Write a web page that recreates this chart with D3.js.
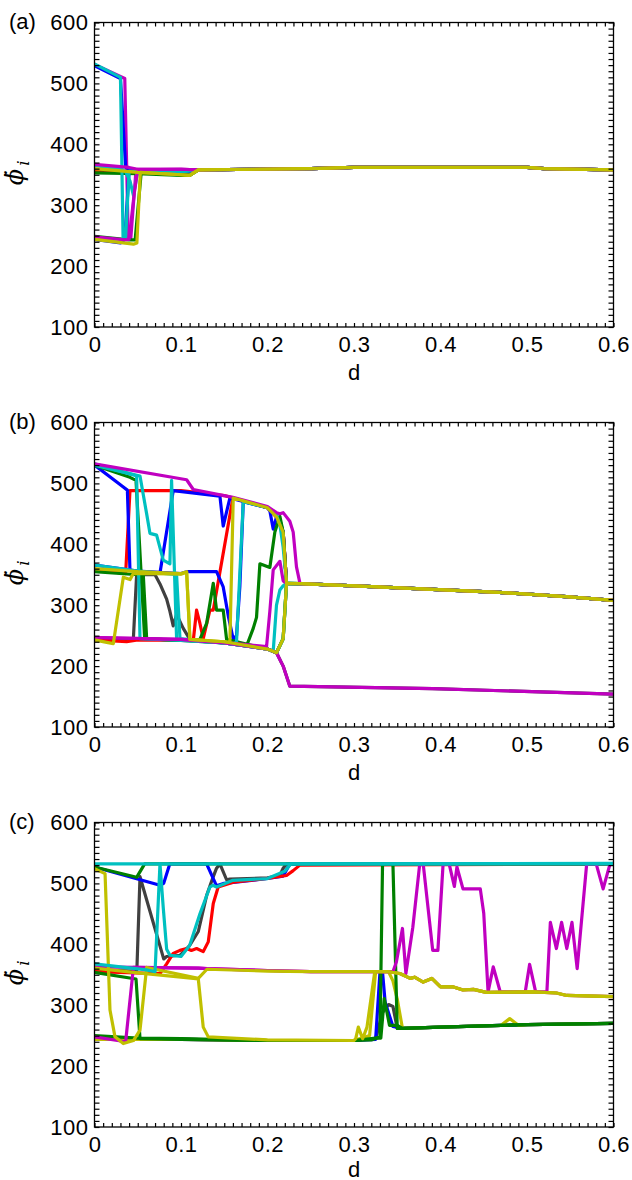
<!DOCTYPE html>
<html>
<head>
<meta charset="utf-8">
<script src="https://cdn.jsdelivr.net/npm/d3@7"></script>
<style>
body { margin: 0; background: #fff; }
svg text { font-family: "Liberation Sans", Arial, sans-serif; fill: #000; }
</style>
</head>
<body>
<div id="chart"></div>
<script>
/* tick labels */
var xTickValues = [0, 0.1, 0.2, 0.3, 0.4, 0.5, 0.6];
var xTickLabels = ['0', '0.1', '0.2', '0.3', '0.4', '0.5', '0.6'];
var yTickValues = [100, 200, 300, 400, 500, 600];
var yTickLabels = ['100', '200', '300', '400', '500', '600'];
var panelLabels = ['(a)', '(b)', '(c)'];

/* shared tails of the curves, [d, phi] */
var tailA = [[0.12, 358], [0.25, 360], [0.3, 362], [0.5, 362], [0.52, 360], [0.6, 358]];
var upperTailB = [[0.2376, 335.5], [0.314, 331], [0.391, 326], [0.468, 321], [0.545, 314], [0.6, 308]];
var lowerTailB = [[0.2258, 167], [0.391, 163], [0.506, 158], [0.6, 154]];
var midTailC = [[0.34, 355], [0.353, 352], [0.365, 344], [0.37, 346], [0.38, 338], [0.39, 344], [0.4, 330],
	[0.415, 330], [0.426, 325], [0.438, 326], [0.453, 321], [0.507, 322], [0.534, 320], [0.546, 316], [0.6, 314]];
var lowTailC = [[0.356, 262], [0.4, 264], [0.45, 266], [0.5, 268], [0.6, 270]];

/* panel (a) : [colour key, points] in drawing order */
var panelA = [
	['gray', [[0, 358], [0.05, 354], [0.1, 351], [0.11, 350]].concat(tailA)],
	['red', [[0, 355], [0.04, 356], [0.05, 357], [0.1, 357]].concat(tailA)],
	['magenta', [[0, 531], [0.035, 508], [0.039, 246], [0.042, 246], [0.048, 358], [0.1, 359]].concat(tailA)],
	['blue', [[0, 529], [0.03, 508], [0.036, 362], [0.045, 356], [0.1, 355], [0.11, 355]].concat(tailA)],
	['blue', [[0, 244], [0.03, 238], [0.035, 244], [0.04, 356], [0.05, 356], [0.1, 355]].concat(tailA)],
	['green', [[0, 249], [0.04, 243], [0.047, 243], [0.054, 354], [0.1, 350], [0.11, 349]].concat(tailA)],
	['green', [[0, 353], [0.05, 352], [0.1, 349], [0.11, 349]].concat(tailA)],
	['cyan', [[0, 532], [0.03, 510], [0.033, 248], [0.036, 248], [0.04, 356], [0.05, 356], [0.1, 355]].concat(tailA)],
	['cyan', [[0, 365], [0.03, 360], [0.036, 355], [0.041, 340], [0.045, 316], [0.05, 356], [0.1, 355]].concat(tailA)],
	['magenta', [[0, 248], [0.035, 243], [0.04, 244], [0.046, 320], [0.05, 359], [0.1, 359]].concat(tailA)],
	['magenta', [[0, 367], [0.04, 362], [0.05, 359], [0.1, 359]].concat(tailA)],
	['yellow', [[0, 244], [0.045, 236], [0.049, 238], [0.053, 354], [0.1, 350], [0.11, 349]].concat(tailA)],
	['yellow', [[0, 360], [0.05, 354], [0.1, 350], [0.11, 349]].concat(tailA)]
];

/* panel (b) */
var panelB = [
	['gray', [[0, 246], [0.1, 243], [0.15, 238], [0.2, 228], [0.2104, 222], [0.2181, 200]].concat(lowerTailB)],
	['gray', [[0, 245], [0.04, 243], [0.0449, 244], [0.0487, 350], [0.07, 350], [0.0757, 335], [0.0834, 310], [0.0872, 290],
		[0.091, 266], [0.0949, 285], [0.1026, 262], [0.1103, 244], [0.15, 238], [0.2, 228], [0.2104, 222], [0.2181, 245], [0.222, 336]].concat(upperTailB)],
	['red', [[0, 358], [0.036, 352], [0.041, 488], [0.1, 488], [0.15, 480], [0.2, 460], [0.2104, 445], [0.2181, 420], [0.222, 336]].concat(upperTailB)],
	['red', [[0, 243], [0.0372, 240], [0.05, 243], [0.1, 242], [0.1142, 242], [0.118, 292], [0.1219, 270], [0.1257, 245], [0.1334, 292],
		[0.1373, 292], [0.16, 476], [0.2, 460], [0.2104, 445], [0.2181, 420], [0.222, 336]].concat(upperTailB)],
	['blue', [[0, 530], [0.0333, 494], [0.038, 489], [0.041, 357], [0.07, 352], [0.0757, 353], [0.091, 488], [0.14, 480], [0.145, 479],
		[0.1488, 430], [0.1565, 476], [0.2, 460], [0.2027, 455], [0.2066, 425], [0.2104, 445], [0.2143, 440], [0.2181, 420], [0.222, 336]].concat(upperTailB)],
	['blue', [[0, 366], [0.05, 356], [0.1, 352], [0.1065, 355], [0.1411, 355], [0.1488, 330], [0.155, 280], [0.1604, 244], [0.1642, 250],
		[0.168, 330], [0.172, 470], [0.2, 460], [0.2104, 447], [0.2181, 420], [0.222, 336]].concat(upperTailB)],
	['green', [[0, 530], [0.041, 510], [0.048, 505], [0.058, 245], [0.1, 242], [0.15, 238], [0.1758, 233], [0.1835, 262], [0.1873, 280],
		[0.1912, 368], [0.2027, 362], [0.2085, 420], [0.2143, 446], [0.2181, 420], [0.222, 336]].concat(upperTailB)],
	['green', [[0, 355], [0.05, 350], [0.0564, 350], [0.0603, 245], [0.1, 242], [0.1142, 242], [0.1219, 244], [0.1296, 270], [0.1373, 336],
		[0.1411, 292], [0.1488, 292], [0.1527, 244], [0.2, 228], [0.2104, 222], [0.2181, 245], [0.222, 336]].concat(upperTailB)],
	['cyan', [[0, 532], [0.0449, 514], [0.0487, 512], [0.0526, 245], [0.1, 242], [0.15, 238], [0.1604, 236], [0.1642, 240], [0.172, 470],
		[0.2, 460], [0.2104, 448], [0.2143, 432], [0.2181, 395], [0.222, 336]].concat(upperTailB)],
	['cyan', [[0, 530], [0.0526, 512], [0.0603, 450], [0.0641, 418], [0.0718, 415], [0.0795, 374], [0.0872, 368], [0.0891, 505],
		[0.0949, 245], [0.1, 243], [0.15, 238], [0.2, 228], [0.2066, 224], [0.2104, 300], [0.2143, 325], [0.2181, 332], [0.222, 336]].concat(upperTailB)],
	['cyan', [[0, 366], [0.05, 356], [0.09, 351], [0.0949, 350], [0.0988, 245], [0.15, 238], [0.2, 228], [0.2104, 222], [0.2181, 245], [0.222, 336]].concat(upperTailB)],
	['magenta', [[0, 247], [0.1, 244], [0.15, 238], [0.2, 228], [0.2104, 222], [0.2181, 200]].concat(lowerTailB)],
	['magenta', [[0, 532], [0.1065, 506], [0.1142, 490], [0.16, 477], [0.2, 462], [0.2104, 452], [0.2143, 450], [0.2181, 452],
		[0.2258, 438], [0.2297, 420], [0.2335, 363]].concat(upperTailB)],
	['magenta', [[0, 247], [0.1, 244], [0.15, 239], [0.1989, 232], [0.2027, 290], [0.2066, 358], [0.2143, 372], [0.2181, 340], [0.222, 336]].concat(upperTailB)],
	['yellow', [[0, 243], [0.0141, 239], [0.0218, 237], [0.0333, 346], [0.041, 342], [0.0449, 352], [0.07, 352], [0.1, 351], [0.1065, 354],
		[0.1103, 244], [0.15, 240], [0.1565, 239], [0.1604, 476], [0.2, 460], [0.2104, 445], [0.2181, 420], [0.222, 336]].concat(upperTailB)],
	['yellow', [[0, 360], [0.05, 355], [0.1, 352], [0.1065, 355], [0.1103, 244], [0.15, 240], [0.2, 228], [0.2104, 222], [0.2181, 245], [0.222, 336]].concat(upperTailB)]
];

/* panel (c) */
var panelC = [
	['gray', [[0, 358], [0.045, 356], [0.049, 358], [0.0526, 511], [0.08, 376], [0.0834, 380], [0.0988, 382], [0.11, 398], [0.12, 421],
		[0.1296, 480], [0.137, 510], [0.1411, 525], [0.145, 532], [0.1527, 506], [0.1565, 507], [0.2, 509], [0.2143, 513], [0.2181, 525],
		[0.222, 532], [0.6, 532]]],
	['gray', [[0, 245], [0.05, 245], [0.2, 242], [0.3, 242], [0.325, 245], [0.333, 288], [0.34, 301], [0.345, 298], [0.35, 262]].concat(lowTailC)],
	['blue', [[0, 527], [0.0757, 497], [0.08, 500], [0.087, 532], [0.1296, 532], [0.1411, 496], [0.15, 500], [0.2, 508], [0.2181, 512],
		[0.2258, 532], [0.6, 532]]],
	['blue', [[0, 245], [0.1, 244], [0.2, 242], [0.3, 242], [0.325, 244], [0.33, 354], [0.333, 354], [0.336, 305], [0.345, 265]].concat(lowTailC)],
	['red', [[0, 355], [0.0757, 352], [0.0834, 368], [0.091, 385], [0.0988, 390], [0.1065, 393], [0.112, 390], [0.118, 393], [0.1257, 388],
		[0.1315, 404], [0.1373, 467], [0.143, 494], [0.1604, 502], [0.1989, 508], [0.222, 513], [0.2297, 521], [0.2374, 530], [0.6, 532]]],
	['yellow', [[0, 244], [0.1, 244], [0.2, 242], [0.3, 242], [0.318, 250], [0.325, 355], [0.34, 355], [0.345, 340], [0.35, 310], [0.356, 262],
		[0.4, 264], [0.47, 267], [0.48, 278], [0.49, 267], [0.5, 268], [0.6, 270]]],
	['green', [[0, 354], [0.048, 343], [0.0526, 245], [0.1, 244], [0.2, 242], [0.3, 242], [0.32, 243], [0.33, 248], [0.333, 532], [0.345, 532], [0.35, 262]].concat(lowTailC)],
	['green', [[0, 250], [0.05, 246], [0.1, 245], [0.2, 242], [0.3, 242], [0.325, 246], [0.331, 246], [0.335, 311], [0.341, 267], [0.35, 267]].concat(lowTailC)],
	['green', [[0, 527], [0.0487, 510], [0.058, 532], [0.6, 532]]],
	['magenta', [[0, 248], [0.036, 240], [0.045, 362], [0.12, 361], [0.13, 360], [0.2, 357], [0.25, 355]].concat(midTailC)],
	['magenta', [[0, 363], [0.12, 361], [0.13, 360], [0.2, 357], [0.25, 355], [0.345, 355], [0.349, 371], [0.356, 426], [0.36, 352],
		[0.368, 428], [0.376, 532], [0.38, 532], [0.391, 390], [0.397, 390], [0.403, 532], [0.41, 532], [0.416, 495], [0.419, 527],
		[0.426, 491], [0.446, 491], [0.45, 451], [0.455, 322], [0.461, 363], [0.469, 322], [0.498, 322], [0.503, 367], [0.51, 322],
		[0.523, 322], [0.527, 436], [0.534, 393], [0.54, 436], [0.546, 393], [0.552, 436], [0.558, 360], [0.569, 532], [0.58, 532],
		[0.588, 491], [0.596, 532], [0.6, 533]]],
	['yellow', [[0, 361], [0.05, 353], [0.1, 346], [0.12, 343], [0.1257, 264], [0.1315, 248], [0.2, 243], [0.3, 242], [0.302, 245],
		[0.305, 264], [0.31, 245], [0.315, 264], [0.324, 355]].concat(midTailC)],
	['yellow', [[0, 524], [0.0122, 516], [0.0179, 292], [0.0237, 248], [0.0333, 237], [0.045, 242], [0.0526, 259], [0.0603, 362],
		[0.12, 344], [0.13, 359], [0.2, 356], [0.25, 355]].concat(midTailC)],
	['cyan', [[0, 368], [0.06, 358], [0.07, 355], [0.0757, 532], [0.0795, 460], [0.0834, 392], [0.0872, 382], [0.1, 380], [0.11, 398],
		[0.1219, 450], [0.1334, 494], [0.137, 497], [0.1411, 494], [0.16, 505], [0.2, 508], [0.22, 520], [0.227, 532], [0.6, 532]]],
	['cyan', [[0, 532], [0.3, 532], [0.6, 533]]]
];

var colors = {
	gray: '#404040', blue: '#0000ff', red: '#ff0000', green: '#008000',
	cyan: '#00c0c0', magenta: '#c000c0', yellow: '#c0c000'
};

var width = 632;
var height = 1180;
var left = 94.5, right = 613.5;
var plotHeight = 304.5;
var panelTops = [22.5, 422.5, 822.5];
var panelData = [panelA, panelB, panelC];
var fontSize = '22px';

var svg = d3.select('#chart').append('svg')
	.attr('width', width)
	.attr('height', height);

var xScale = d3.scaleLinear().domain([0, 0.6]).range([left, right]);
var xMinor = d3.range(0, 61).map(i => i / 100);
var yMinor = d3.range(100, 601, 10);

panelTops.forEach(function(top, p) {
	var yScale = d3.scaleLinear().domain([100, 600]).range([top + plotHeight, top]);
	var g = svg.append('g');

	g.append('clipPath').attr('id', 'clip' + p)
		.append('rect').attr('x', left).attr('y', top)
		.attr('width', right - left).attr('height', plotHeight);

	var line = d3.line()
		.x(d => xScale(d[0]))
		.y(d => yScale(d[1]));

	g.append('g').attr('clip-path', `url(#clip${p})`)
		.selectAll('path')
		.data(panelData[p])
		.enter()
		.append('path')
		.attr('d', d => line(d[1]))
		.attr('fill', 'none')
		.attr('stroke', d => colors[d[0]])
		.attr('stroke-width', 3.2)
		.attr('stroke-linejoin', 'round');

	/* minor ticks on all four sides, pointing in */
	var bottom = g.append('g').attr('transform', `translate(0,${top + plotHeight})`)
		.call(d3.axisBottom(xScale).tickValues(xMinor).tickSize(-4).tickFormat(''));
	var topAx = g.append('g').attr('transform', `translate(0,${top})`)
		.call(d3.axisTop(xScale).tickValues(xMinor).tickSize(-4).tickFormat(''));
	var leftAx = g.append('g').attr('transform', `translate(${left},0)`)
		.call(d3.axisLeft(yScale).tickValues(yMinor).tickSize(-5).tickFormat(''));
	var rightAx = g.append('g').attr('transform', `translate(${right},0)`)
		.call(d3.axisRight(yScale).tickValues(yMinor).tickSize(-5).tickFormat(''));
	[bottom, topAx, leftAx, rightAx].forEach(function(a) {
		a.select('.domain').remove();
		a.selectAll('line').attr('stroke', '#000').attr('stroke-width', 1.2);
	});

	/* labelled ticks */
	var xl = g.append('g').attr('transform', `translate(0,${top + plotHeight})`)
		.call(d3.axisBottom(xScale).tickValues(xTickValues).tickSize(0).tickPadding(9)
			.tickFormat((d, i) => xTickLabels[i]));
	var yl = g.append('g').attr('transform', `translate(${left},0)`)
		.call(d3.axisLeft(yScale).tickValues(yTickValues).tickSize(0).tickPadding(6)
			.tickFormat((d, i) => yTickLabels[i]));
	[xl, yl].forEach(function(a) {
		a.select('.domain').remove();
		a.selectAll('text').style('font-size', fontSize).style('letter-spacing', '0.5px').attr('fill', '#000');
	});

	g.append('rect')
		.attr('x', left).attr('y', top)
		.attr('width', right - left).attr('height', plotHeight)
		.attr('fill', 'none').attr('stroke', '#000').attr('stroke-width', 1.3);

	g.append('text')
		.attr('x', 9).attr('y', top + 6)
		.style('font-size', fontSize)
		.text(panelLabels[p]);

	g.append('text')
		.attr('x', (left + right) / 2)
		.attr('y', top + plotHeight + (p === 2 ? 50 : 53))
		.attr('text-anchor', 'middle')
		.style('font-size', fontSize)
		.text('d');

	/* y title: phi dot, subscript i */
	var ylab = g.append('text')
		.attr('transform', `translate(23,${top + plotHeight / 2 - 2}) rotate(-90)`)
		.attr('text-anchor', 'middle')
		.style('font-family', 'DejaVu Serif')
		.style('font-style', 'italic')
		.style('font-size', '24px');
	ylab.append('tspan').text('\u03d5');
	ylab.append('tspan').attr('dx', -12).attr('dy', 0).text('\u02d9');
	ylab.append('tspan').attr('dx', 3).attr('dy', 6).style('font-size', '17px').text('i');
});
</script>
</body>
</html>
